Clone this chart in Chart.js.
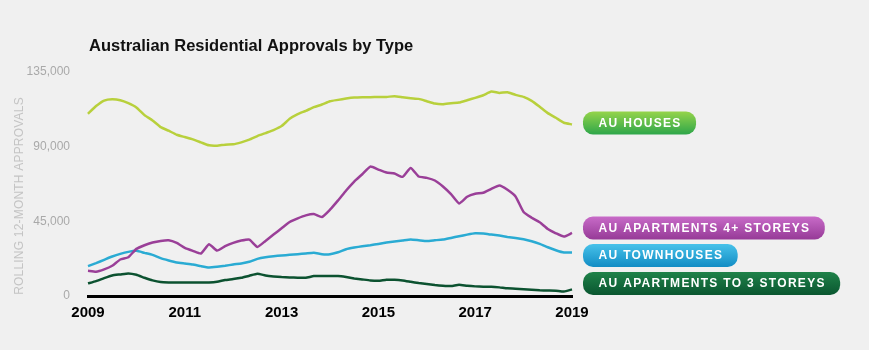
<!DOCTYPE html>
<html>
<head>
<meta charset="utf-8">
<script src="https://cdn.jsdelivr.net/npm/chart.js@4.4.1/dist/chart.umd.min.js"></script>
<style>
  html, body { margin: 0; padding: 0; background: #f0f0f0; }
  #wrap { position: relative; width: 869px; height: 350px; }
  canvas { display: block; }
</style>
</head>
<body>
<div id="wrap"><canvas id="c" width="869" height="350"></canvas></div>
<script>
// ---- Data (bi-monthly, rolling 12-month approvals) ----
const periods = [
 '2009-01','2009-03','2009-05','2009-07','2009-09','2009-11',
 '2010-01','2010-03','2010-05','2010-07','2010-09','2010-11',
 '2011-01','2011-03','2011-05','2011-07','2011-09','2011-11',
 '2012-01','2012-03','2012-05','2012-07','2012-09','2012-11',
 '2013-01','2013-03','2013-05','2013-07','2013-09','2013-11',
 '2014-01','2014-03','2014-05','2014-07','2014-09','2014-11',
 '2015-01','2015-03','2015-05','2015-07','2015-09','2015-11',
 '2016-01','2016-03','2016-05','2016-07','2016-09','2016-11',
 '2017-01','2017-03','2017-05','2017-07','2017-09','2017-11',
 '2018-01','2018-03','2018-05','2018-07','2018-09','2018-11',
 '2019-01'
];
const houses = [
 109800,114500,117800,118600,118000,116200,
 113600,109000,105800,101800,99600,97200,
 95800,94400,92600,90800,90600,91200,
 91400,92600,94200,96400,98200,100000,
 102400,106800,109600,111600,113800,115400,
 117400,118200,119000,119600,119800,119800,
 120000,120000,120400,119800,119200,118800,
 117400,116000,115600,116200,116600,118000,
 119400,121000,123200,122400,122800,121200,
 120000,117600,114000,110200,107400,104400,
 103400
];
const apartments4Plus = [
 15200,14600,16000,18200,22000,23400,
 28400,30600,32200,33200,33600,32000,
 29000,27200,25600,31200,27400,30000,
 32000,33400,34000,29600,33200,37000,
 40800,44600,46800,48600,49400,47600,
 52000,57600,63600,69000,73400,78000,
 76200,74400,73800,71800,77200,72000,
 71200,69600,66000,61400,55800,59800,
 61600,62200,64600,66600,64000,60000,
 50600,47200,44400,40400,37800,35800,
 38000
];
const townhouses = [
 18000,19800,21800,23800,25400,26600,
 27200,26000,24800,22800,21400,20200,
 19600,19000,18000,17200,17600,18200,
 19000,19600,20600,22400,23400,24000,
 24400,24800,25200,25600,26000,25200,
 25200,26400,28200,29200,30000,30600,
 31400,32200,32800,33400,34000,33600,
 33200,33600,34000,35000,36000,37000,
 37800,37600,37000,36400,35600,35000,
 34200,33000,31400,29400,27600,26200,
 26200
];
const apartmentsTo3 = [
 7600,9000,10800,12400,13000,13600,
 12800,11000,9400,8400,8200,8200,
 8200,8200,8200,8200,8600,9600,
 10200,11000,12200,13400,12400,11800,
 11400,11200,11000,11000,12000,12000,
 12000,12000,11400,10600,10000,9400,
 9200,9800,9800,9400,8600,7800,
 7200,6600,6200,6000,6800,6200,
 5800,5600,5600,5200,4600,4400,
 4000,3700,3400,3300,3200,2700,
 4000
];
const xTickLabels = ['2009','2011','2013','2015','2017','2019'];
const yTickValues = [0, 45000, 90000, 135000];
const seriesNames = ['AU HOUSES','AU APARTMENTS 4+ STOREYS','AU TOWNHOUSES','AU APARTMENTS TO 3 STOREYS'];
const chartTitle = 'Australian Residential Approvals by Type';
const yAxisTitle = 'ROLLING 12-MONTH APPROVALS';

// ---- Styles ----
const lineColors = ['#b8d03c', '#9a3f98', '#2aabd3', '#0c5230'];
const pillGradients = [
  ['#95d44a', '#2ea64a'],
  ['#c86bc8', '#963a97'],
  ['#48c2ea', '#118cc4'],
  ['#1f8249', '#0a5630']
];
const FONT = '"Liberation Sans", Arial, Helvetica, sans-serif';

const decorPlugin = {
  id: 'decor',
  afterDraw(chart) {
    const ctx = chart.ctx;
    const area = chart.chartArea;
    ctx.save();
    // Title
    ctx.fillStyle = '#111';
    ctx.font = 'bold 16.5px ' + FONT;
    ctx.textBaseline = 'middle';
    ctx.textAlign = 'left';
    ctx.fillText(chartTitle, area.left + 1, 46);
    // Y-axis title
    ctx.save();
    ctx.translate(20, 196);
    ctx.rotate(-Math.PI / 2);
    ctx.textAlign = 'center';
    ctx.fillStyle = '#c4c4c4';
    ctx.font = '12px ' + FONT;
    try { ctx.letterSpacing = '0.2px'; } catch (e) {}
    ctx.fillText(yAxisTitle, 0, 0);
    try { ctx.letterSpacing = '0px'; } catch (e) {}
    ctx.restore();
    // Legend pills at line end values
    const pillX = 583, pillH = 23;
    const pillCenters = [123, 228, 255.5, 283.5];
    chart.data.datasets.forEach((ds, i) => {
      const name = seriesNames[i];
      ctx.font = 'bold 12px ' + FONT;
      try { ctx.letterSpacing = '1.3px'; } catch (e) {}
      const tw = ctx.measureText(name).width;
      const w = tw + 30;
      const cy = pillCenters[i];
      const top = cy - pillH / 2;
      const g = ctx.createLinearGradient(0, top, 0, top + pillH);
      g.addColorStop(0, pillGradients[i][0]);
      g.addColorStop(1, pillGradients[i][1]);
      ctx.fillStyle = g;
      ctx.beginPath();
      ctx.roundRect(pillX, top, w, pillH, 10);
      ctx.fill();
      ctx.fillStyle = '#ffffff';
      ctx.textAlign = 'center';
      ctx.textBaseline = 'middle';
      ctx.fillText(name, pillX + w / 2 + 0.6, cy + 0.5);
      try { ctx.letterSpacing = '0px'; } catch (e) {}
    });
    ctx.restore();
  }
};

const datasets = [houses, apartments4Plus, townhouses, apartmentsTo3].map((vals, i) => ({
  label: seriesNames[i],
  data: vals,
  borderColor: lineColors[i],
  backgroundColor: lineColors[i],
  borderWidth: 2.5,
  pointRadius: 0,
  tension: 0.15,
  fill: false
}));

new Chart(document.getElementById('c'), {
  type: 'line',
  data: { labels: periods, datasets },
  options: {
    responsive: false,
    animation: false,
    layout: { padding: { left: 6, right: 297, top: 72, bottom: 20 } },
    plugins: { legend: { display: false }, title: { display: false }, tooltip: { enabled: false } },
    scales: {
      x: {
        type: 'category',
        offset: false,
        grid: { display: true, drawOnChartArea: false, drawTicks: false },
        border: { display: true, color: '#000', width: 3 },
        ticks: {
          autoSkip: false,
          maxRotation: 0,
          padding: 8,
          color: '#000',
          font: { family: FONT, size: 15, weight: 'bold' },
          callback: function (value) {
            const lab = this.getLabelForValue(value);
            const yr = lab.slice(0, 4);
            return (lab.endsWith('-01') && xTickLabels.includes(yr)) ? yr : '';
          }
        },
        afterFit(scale) { scale.height = 34; }
      },
      y: {
        min: 0,
        max: 135000,
        grid: { display: false },
        border: { display: false },
        afterBuildTicks(scale) { scale.ticks = yTickValues.map(v => ({ value: v })); },
        ticks: {
          padding: 10,
          color: '#a9a9a9',
          font: { family: FONT, size: 12 },
          callback: v => v.toLocaleString('en-US')
        },
        afterFit(scale) { scale.width = 82; }
      }
    }
  },
  plugins: [decorPlugin]
});
</script>
</body>
</html>
